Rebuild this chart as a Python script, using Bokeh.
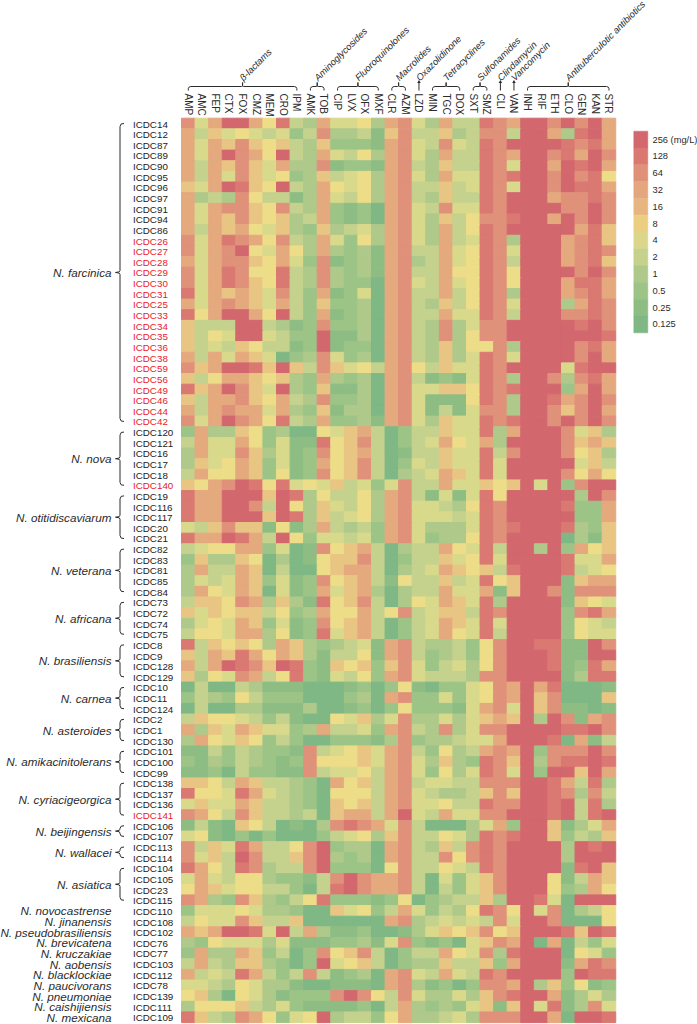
from math import pi
from bokeh.embed import file_html
from bokeh.resources import INLINE
from bokeh.plotting import figure
from bokeh.core.properties import value

ANTIBIOTICS = ["AMP","AMC","FEP","CTX","FOX","CMZ","MEM","CRO","IPM","AMK","TOB","CIP","LVX","OFX","MXF","CLR",
               "AZM","LZD","MIN","TGC","DOX","SXT","SMZ","CLI","VAN","INH","RIF","ETH","CLO","GEN","KAN","STR"]
CLASSES = [("β-lactams","AMP","IPM"),("Aminoglycosides","AMK","TOB"),("Fluoroquinolones","CIP","MXF"),
           ("Macrolides","CLR","AZM"),("Oxazolidinone","LZD","LZD"),("Tetracyclines","MIN","DOX"),
           ("Sulfonamides","SXT","SMZ"),("Clindamycin","CLI","CLI"),("Vancomycin","VAN","VAN"),
           ("Antituberculotic antibiotics","INH","STR")]
LEGEND_LABELS = ["256 (mg/L)","128","64","32","16","8","4","2","1","0.5","0.25","0.125"]
PALETTE = ["#7fb884","#8ebd84","#9dc487","#aec98a","#c4d28d","#d9d98c","#eedd88","#e9c584","#e5a97e","#e0917a","#da7872","#d3676e"]
LEGEND_COLORS = ["#d3676e","#da7872","#e0917a","#e4a67e","#e7b680","#ecce83","#dcd68a","#c6d18c","#aec98a","#9dc487","#8ebd84","#7fb884"]
RED_STRAINS = ["ICDC26","ICDC27","ICDC28","ICDC29","ICDC30","ICDC31","ICDC25","ICDC33","ICDC34","ICDC35","ICDC36",
               "ICDC38","ICDC59","ICDC56","ICDC49","ICDC46","ICDC44","ICDC42","ICDC140","ICDC141"]

# each code is the doubling step of the MIC above 0.125 mg/L (0=0.125 ... A=128, B=256), one per antibiotic
farcinica_strains = ["ICDC14","ICDC12","ICDC87","ICDC89","ICDC90","ICDC95","ICDC96","ICDC97","ICDC91","ICDC94","ICDC86",
                     "ICDC26","ICDC27","ICDC28","ICDC29","ICDC30","ICDC31","ICDC25","ICDC33","ICDC34","ICDC35","ICDC36",
                     "ICDC38","ICDC59","ICDC56","ICDC49","ICDC46","ICDC44","ICDC42"]
farcinica_mic = [
"958BB86A43 8556389538 44A98BB9B9 B8","8475654524 9334179447 34994BB83A B8","8587976743 7222189549 54A9BBBBA9 A8",
"858B986B43 8546389538 44A98BB9A8 B9","8487975833 9122189437 44A95BB8BA B8","8485975623 7456389538 55A9ABB9B9 A6",
"758BA76B43 8656389447 45A95BB9BA A8","8343964413 8546389437 44A9BBB899 A9","8589976943 8212089549 55A9BBBB99 B9",
"8587976734 8212089537 4699ABB8B9 B9","8487865732 7345389538 46A9BBBBB8 A7","958A986943 8526389538 45A93BBB89 A7",
"9589B65863 8323189448 56A95BBB89 A9","8589976852 9123189348 56A94BBB89 A7","958A966A43 9323189448 66A96BBBB9 B9",
"958A976A43 9322089548 56A96BBB8A A8","A587875942 8125089448 46A93BBB89 A8","8589875842 7223089437 46A95BBB38 A9",
"A68BB86B42 8123089448 55A94BBB99 A9","7444BB4312 9223089439 3599BBBBBA B9","7465BB5422 B113089439 3699BBBBBB BA",
"7454764412 B122089437 36693BBBB9 A8","8485875023 9523089437 35A95BBBB9 B8","978BBA7B74 9756489647 55A9BBBB5A BB",
"7468876732 8323089412 15A93BB939 A8","A78B975B32 7113089557 76A9ABBB28 B8","7488976843 9223089511 16A93BBA89 B9",
"8489885832 7133089514 15993BB979 B8","958B986A43 8223189537 55A9ABB9B9 B9"]
nova_strains = ["ICDC120","ICDC121","ICDC16","ICDC17","ICDC18","ICDC140"]
nova_mic = ["2833762300 6578402447 55A38BBB95 73","4855862511 A679402458 6583BBBB97 87","3855973512 9678401447 55A49BBB96 73",
"3756872512 8679402547 55A5BBBBB5 74","4866872612 9679403458 75A5BBBB96 86","7689BA6A56 5745259448 55767B5B29 BB"]
otitidiscaviarum_strains = ["ICDC19","ICDC116","ICDC117","ICDC20","ICDC21"]
otitidiscaviarum_mic = ["A88BBB7BA3 6446389415 15A6BBBBB3 B9","A88BB94B63 7546389554 36A9BBBBA2 28","A88BBB7BA3 7456389555 45A9BBBBB2 28",
"5479771613 8434289533 35A9ABBBA3 27","A88BA84B62 5545289523 36A9BBBB03 17"]
veterana_strains = ["ICDC82","ICDC83","ICDC81","ICDC85","ICDC84"]
veterana_mic = ["4566882501 9678403448 65A4BB3B28 67","2733760301 6779402447 56A5BBBBA5 58","3844870400 6788403458 7674ABBBA4 56",
"3545872512 9678416447 45A67BBB17 88","3865870512 8578303448 55817BB919 99"]
africana_strains = ["ICDC73","ICDC72","ICDC74","ICDC75"]
africana_mic = ["4776983731 A679403658 75A3BBBB17 65","7576774623 8668469457 74A9BBBB29 A8","3565872512 9678402458 75A5BBBB26 54",
"4665883612 A578402458 65A4BBBB26 55"]
brasiliensis_strains = ["ICDC8","ICDC9","ICDC128","ICDC129"]
brasiliensis_mic = ["A476763873 2345189433 4269BBAA11 B9","7487A86873 1446189423 4269BBBA11 BB","848BA97BA2 1767279524 5369BBBA12 A8",
"73659846A2 1546289544 4399BBBB13 AA"]
carnea_strains = ["ICDC10","ICDC11","ICDC124"]
carnea_mic = ["0400431110 0012026102 25698B8A00 01","2432642220 0023089225 25698B7900 07","0400331113 0012026222 15895B7911 01"]
asteroides_strains = ["ICDC2","ICDC1","ICDC130"]
asteroides_mic = ["4766542410 0657359335 35787B3B91 89","8375875523 8445289439 3599BBBBAA B9","3865762420 0222139233 4558BBBA08 14"]
amikacinitolerans_strains = ["ICDC101","ICDC100","ICDC99"]
amikacinitolerans_mic = ["1142432219 4567589426 34898B2999 B9","2132432129 6667589537 32A97B39AA BA","1120422119 4556489526 35A95B2BB7 B8"]
cyriacigeorgica_strains = ["ICDC138","ICDC137","ICDC136","ICDC141"]
cyriacigeorgica_mic = ["7764874432 0867489455 44999BBA84 A3","A665A85432 0666489543 34797BBA93 94","5755874432 0767489556 44A99BBAB4 A3",
"9864974434 078848B548 5599BBBAB4 AB"]
beijingensis_strains = ["ICDC106","ICDC107"]
beijingensis_mic = ["1410764010 39A9859400 03582BB713 58","5610202000 2456379446 53A9ABB724 37"]
wallacei_strains = ["ICDC113","ICDC114"]
wallacei_mic = ["9475A84469 B233089437 49A9BBBB3B AB","9574B94479 B323089449 69A9BBBB3B BB"]
asiatica_strains = ["ICDC104","ICDC105","ICDC23","ICDC115"]
asiatica_mic = ["A864A93449 B222069446 54A9BBBB1A B7","5854663221 49B9889405 2579BBB614 87","6875664420 4AB9889404 2579BBB623 86",
"9832973246 A222126023 4473BBA50B BB"]

GROUPS = [("N. farcinica",farcinica_strains,farcinica_mic),("N. nova",nova_strains,nova_mic),
 ("N. otitidiscaviarum",otitidiscaviarum_strains,otitidiscaviarum_mic),("N. veterana",veterana_strains,veterana_mic),
 ("N. africana",africana_strains,africana_mic),("N. brasiliensis",brasiliensis_strains,brasiliensis_mic),
 ("N. carnea",carnea_strains,carnea_mic),("N. asteroides",asteroides_strains,asteroides_mic),
 ("N. amikacinitolerans",amikacinitolerans_strains,amikacinitolerans_mic),
 ("N. cyriacigeorgica",cyriacigeorgica_strains,cyriacigeorgica_mic),("N. beijingensis",beijingensis_strains,beijingensis_mic),
 ("N. wallacei",wallacei_strains,wallacei_mic),("N. asiatica",asiatica_strains,asiatica_mic),
 ("N. novocastrense",["ICDC110"],["2555653320 0756248524 36A96B5903 46"]),
 ("N. jinanensis",["ICDC108"],["4655974470 0000089345 45495BB900 06"]),
 ("N. pseudobrasiliensis",["ICDC102"],["878BBA5B48 3112001357 67967BBBA7 BA"]),
 ("N. brevicatena",["ICDC76"],["3265553511 1223159212 05798B0804 25"]),
 ("N. kruczakiae",["ICDC77"],["2833872402 9679402448 6593ABBB06 52"]),
 ("N. aobensis",["ICDC103"],["4843773202 B567402337 44728BBB18 A9"]),
 ("N. blacklockiae",["ICDC112"],["8454A84249 4123089548 54A9BBBB2B AA"]),
 ("N. paucivorans",["ICDC78"],["5543653310 0111089312 02998B3726 12"]),
 ("N. pneumoniae",["ICDC139"],["6730653122 29B9649533 5379ABB813 53"]),
 ("N. caishijiensis",["ICDC111"],["3666743521 1112048323 25717B5A13 95"]),
 ("N. mexicana",["ICDC109"],["A743986256 B344268334 53999BB80B BA"])]

W, H = 697, 1024
X0, Y0, CW, RH = 181.0, 117.7, 13.57, 10.64
FONT = value("Liberation Sans")
INK = "#2b2b2b"

def fx(px): return (px - X0) / CW
def fy(py): return (py - Y0) / RH

p = figure(width=W, height=H, output_backend="svg", toolbar_location=None,
           x_range=(fx(0), fx(W)), y_range=(fy(H), fy(0)), min_border=0, outline_line_color=None)
p.axis.visible = False
p.grid.visible = False
p.background_fill_color = "white"
p.styles = {"position": "absolute", "left": "0px", "top": "0px"}

# heat cells
xs, ys, cols = [], [], []
names, row_ys, name_cols, sp_names, sp_ys = [], [], [], [], []
bx, by = [], []
row = 0
for species, strains, codes in GROUPS:
    start = row
    for s, code in zip(strains, codes):
        c = code.replace(" ", "")
        assert len(c) == 32, s
        for j, ch in enumerate(c):
            xs.append(j + 0.5); ys.append(row + 0.5); cols.append(PALETTE[int(ch, 12)])
        names.append(s); row_ys.append(row + 0.5 + 0.5 / RH)
        name_cols.append("#e8202c" if s in RED_STRAINS else "#222222")
        row += 1
    sp_names.append(species); sp_ys.append((start + row) / 2)
    if len(strains) > 1:
        y0 = Y0 + (start + 0.5) * RH; y1 = Y0 + (row - 0.5) * RH; ym = (y0 + y1) / 2
        rx, lx, tx = 123.5, 119.5, 115.0
        r = min(3.0, (y1 - y0) / 4)
        path = [(rx, y0), (lx + 1.2, y0 + 0.4), (lx, y0 + r), (lx, ym - 2), (lx - 0.8, ym - 0.6), (tx, ym),
                (lx - 0.8, ym + 0.6), (lx, ym + 2), (lx, y1 - r), (lx + 1.2, y1 - 0.4), (rx, y1)]
        bx.append([fx(a) for a, _ in path]); by.append([fy(b) for _, b in path])

p.rect(x=xs, y=ys, width=1, height=1, fill_color=cols, line_color=cols, line_width=1)
p.multi_line(xs=bx, ys=by, line_color=INK, line_width=1)

p.text(x=[fx(132.5)] * len(names), y=row_ys, text=names, text_font=FONT, text_font_size="9.8px",
       text_color=name_cols, text_align="left", text_baseline="middle")
p.text(x=[fx(111)] * len(sp_names), y=sp_ys, text=sp_names, text_font=FONT, text_font_style="italic",
       text_font_size="11.7px", text_color=INK, text_align="right", text_baseline="middle")

# antibiotic labels
p.text(x=[i + 0.5 for i in range(32)], y=[fy(93)] * 32, text=ANTIBIOTICS, text_font=FONT, text_font_size="10px",
       text_color=INK, angle=-pi / 2, text_align="left", text_baseline="middle")

# class brackets
cx, cy, tx_, ty_, tl = [], [], [], [], []
ax, ay = [], []
for label, a, b in CLASSES:
    i, j = ANTIBIOTICS.index(a) + 0.5, ANTIBIOTICS.index(b) + 0.5
    m = (i + j) / 2
    tx_.append(m); ty_.append(fy(78.5)); tl.append(label)
    if a == b:
        cx.append([i, i]); cy.append([fy(81), fy(90)])
        ax.append(i); ay.append(fy(81.5))
    else:
        d = 2.5 / CW
        cx.append([i, i, i + d * 0.3, i + d, m - d * 0.4, m, m, m, m + d * 0.4, j - d, j - d * 0.3, j, j])
        cy.append([fy(90), fy(88), fy(86.6), fy(86), fy(86), fy(85.5), fy(82), fy(85.5), fy(86), fy(86), fy(86.6), fy(88), fy(90)])
p.multi_line(xs=cx, ys=cy, line_color=INK, line_width=1)
p.scatter(x=ax, y=ay, marker="triangle", size=3.5, fill_color=INK, line_color=None)
p.text(x=[t - 1.5 / CW for t in tx_], y=ty_, text=tl, text_font=FONT, text_font_style="italic", text_font_size="9.4px",
       text_color=INK, angle=pi / 4, text_align="left", text_baseline="middle")

# legend
n = len(LEGEND_LABELS)
lh = 16.8 / RH; ly0 = fy(130.7)
ly = [ly0 + (k + 0.5) * lh for k in range(n)]
p.rect(x=[fx(640.3)] * n, y=ly, width=14 / CW, height=lh, fill_color=LEGEND_COLORS, line_color=LEGEND_COLORS, line_width=0.5)
p.text(x=[fx(652)] * n, y=ly, text=LEGEND_LABELS, text_font=FONT, text_font_size="9.3px", text_color=INK,
       text_align="left", text_baseline="middle")

open("out.html", "w").write(file_html(p, INLINE))
